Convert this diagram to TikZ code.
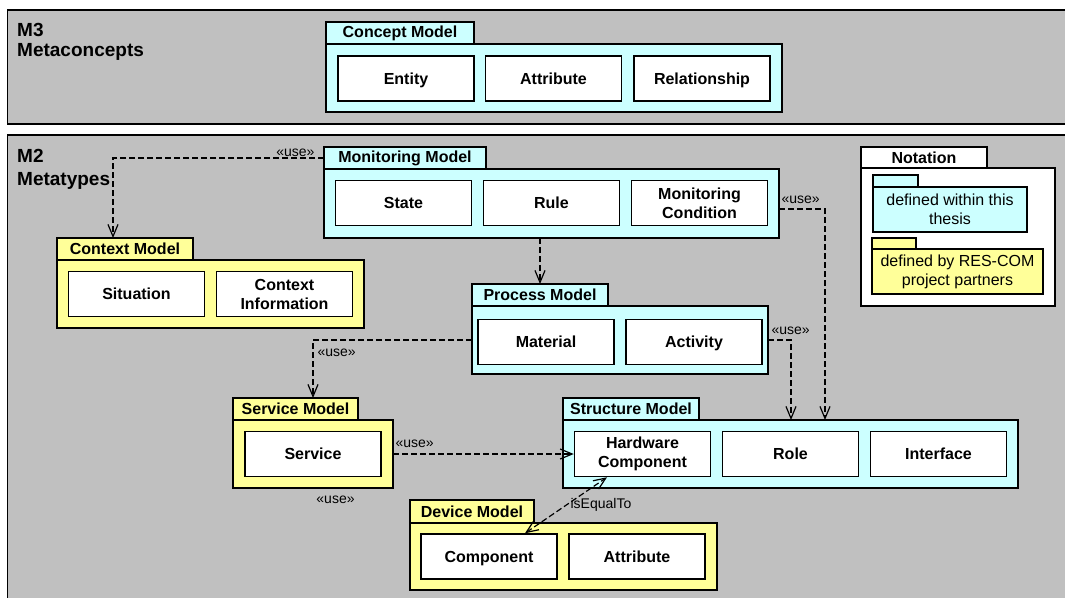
\documentclass[tikz,border=0pt]{standalone}
\usepackage{fontspec}
\setmainfont{Liberation Sans}
\usepackage{tikz}
\usetikzlibrary{arrows.meta,positioning,calc}
\definecolor{panelgray}{RGB}{192,192,192}
\definecolor{thesiscyan}{RGB}{204,255,255}
\definecolor{partneryellow}{RGB}{255,255,153}

\begin{document}
\begin{tikzpicture}[x=1pt,y=-1pt,
  >={Straight Barb[length=12pt,width=10pt]},
  panel/.style={draw,line width=1.3pt,fill=panelgray},
  pkg/.style={draw,line width=1.5pt,inner sep=0pt,outer sep=0pt},
  pkgtab/.style={draw,line width=1.5pt,inner sep=0pt,outer sep=0pt,minimum height=22pt,
    anchor=south west,font=\bfseries\fontsize{16}{19}\selectfont},
  elem/.style={draw,line width=1.5pt,fill=white,minimum width=136pt,minimum height=45pt,
    inner sep=0pt,align=center,font=\bfseries\fontsize{16}{19}\selectfont},
  oneline/.style={text height=11.6pt,text depth=0pt},
  twoline/.style={},
  note/.style={draw,line width=1.2pt,inner sep=0pt,outer sep=0pt,align=center,
    font=\fontsize{16}{19}\selectfont},
  uses/.style={draw,dash pattern=on 6pt off 3pt,line width=1.2pt,->},
  uselabel/.style={font=\fontsize{14}{16}\selectfont,inner sep=1pt}]

  \path[use as bounding box] (0,0) rectangle (1065,597);
  \clip (0,0) rectangle (1065,597);
  \fill[white] (0,0) rectangle (1065,597);

  % M3 layer
  \draw[panel] (7.5,10) rectangle (1080,124);
  \node[anchor=north west,inner sep=0pt,align=left,font=\bfseries\fontsize{19}{20}\selectfont]
    (m3) at (17,23) {M3\\Metaconcepts};

  \node[pkg,fill=thesiscyan,minimum width=456pt,minimum height=68pt] (concept) at (554,78) {};
  \node[pkgtab,fill=thesiscyan,minimum width=148pt] (concepttab) at (concept.north west) {Concept Model};
  \foreach \x/\nm/\lab in {406/entity/Entity,553.5/cattr/Attribute,702/relship/Relationship}
    \node[elem,oneline] (\nm) at (\x,78.5) {\lab};

  % M2 layer
  \draw[panel] (7.5,135) rectangle (1080,620);
  \node[anchor=north west,inner sep=0pt,align=left,font=\bfseries\fontsize{19}{23}\selectfont]
    (m2) at (17,149) {M2\\Metatypes};

  % monitoring model
  \node[pkg,fill=thesiscyan,minimum width=455pt,minimum height=69pt] (mon) at (551.5,203.5) {};
  \node[pkgtab,fill=thesiscyan,minimum width=162pt] (montab) at (mon.north west) {Monitoring Model};
  \foreach \x/\nm/\lab/\st in {403.5/state/State/oneline,551.5/rule/Rule/oneline,
      699.5/moncond/Monitoring\\Condition/twoline}
    \node[elem,\st] (\nm) at (\x,203) {\lab};

  % context model
  \node[pkg,fill=partneryellow,minimum width=307pt,minimum height=68pt] (ctx) at (210.5,294) {};
  \node[pkgtab,fill=partneryellow,minimum width=136pt] (ctxtab) at (ctx.north west) {Context Model};
  \foreach \x/\nm/\lab/\st in {136.5/situation/Situation/oneline,284.5/ctxinfo/Context\\Information/twoline}
    \node[elem,\st] (\nm) at (\x,294) {\lab};

  % process model
  \node[pkg,fill=thesiscyan,minimum width=296pt,minimum height=68pt] (proc) at (620,340) {};
  \node[pkgtab,fill=thesiscyan,minimum width=136pt] (proctab) at (proc.north west) {Process Model};
  \foreach \x/\nm/\lab in {546/material/Material,694/activity/Activity}
    \node[elem,oneline] (\nm) at (\x,342) {\lab};

  % service model
  \node[pkg,fill=partneryellow,minimum width=160pt,minimum height=68pt] (svc) at (313,454) {};
  \node[pkgtab,fill=partneryellow,minimum width=125pt] (svctab) at (svc.north west) {Service Model};
  \node[elem,oneline] (service) at (313,454) {Service};

  % structure model
  \node[pkg,fill=thesiscyan,minimum width=455pt,minimum height=68pt] (struct) at (790.5,454) {};
  \node[pkgtab,fill=thesiscyan,minimum width=136pt] (structtab) at (struct.north west) {Structure Model};
  \foreach \x/\nm/\lab/\st in {642.5/hwcomp/Hardware\\Component/twoline,790.5/role/Role/oneline,
      938.5/iface/Interface/oneline}
    \node[elem,\st] (\nm) at (\x,454) {\lab};

  % device model
  \node[pkg,fill=partneryellow,minimum width=307pt,minimum height=67pt] (dev) at (563.5,556.5) {};
  \node[pkgtab,fill=partneryellow,minimum width=124pt,minimum height=23pt] (devtab) at (dev.north west) {Device Model};
  \foreach \x/\nm/\lab in {489/component/Component,637/dattr/Attribute}
    \node[elem,oneline] (\nm) at (\x,556.5) {\lab};

  % notation
  \node[pkg,fill=white,minimum width=194pt,minimum height=138pt] (notation) at (958,237) {};
  \node[pkgtab,fill=white,minimum width=126pt,minimum height=21pt] (notationtab) at (notation.north west) {Notation};
  \node[note,fill=thesiscyan,minimum width=154pt,minimum height=45pt] (notecyan) at (950,209.5)
    {defined within this\\thesis};
  \node[note,fill=thesiscyan,minimum width=45pt,minimum height=12pt,anchor=south west] (notecyantab)
    at (notecyan.north west) {};
  \node[note,fill=partneryellow,minimum width=171pt,minimum height=45pt] (noteyellow) at (957.5,271.5)
    {defined by RES-COM\\project partners};
  \node[note,fill=partneryellow,minimum width=44pt,minimum height=11pt,anchor=south west] (noteyellowtab)
    at (noteyellow.north west) {};

  % dependencies
  \draw[uses] (montab.west) -| node[uselabel,pos=0,anchor=south east,xshift=-8pt] (use1) {«use»}
    ([xshift=-12pt]ctxtab.north);
  \draw[uses] (proctab.north |- mon.south) -- (proctab.north);
  \draw[uses] ([yshift=-5.5pt]mon.east) -| node[uselabel,pos=0,anchor=south west,xshift=1pt,yshift=4pt] (use2) {«use»}
    ([xshift=34.5pt]struct.north);
  \draw[uses] (proc.east) -| node[uselabel,pos=0,anchor=south west,xshift=2pt,yshift=4pt] (use3) {«use»}
    ([xshift=0.5pt]struct.north);
  \draw[uses] (proc.west) -| node[uselabel,pos=0.5,anchor=north west,xshift=3pt,yshift=-7pt] (use4) {«use»}
    (svc.north |- svctab.north);
  \draw[uses] (svc.east) -- node[uselabel,pos=0,anchor=south west,xshift=1pt,yshift=5pt] (use5) {«use»}
    (hwcomp.west);
  \node[uselabel] (use6) at (335.5,500) {«use»};
  \draw[uses,<->] ([xshift=36pt]component.north) -- node[uselabel,anchor=west,xshift=3pt] (iseq) {isEqualTo}
    ([xshift=-35.5pt]hwcomp.south);
\end{tikzpicture}
\end{document}
